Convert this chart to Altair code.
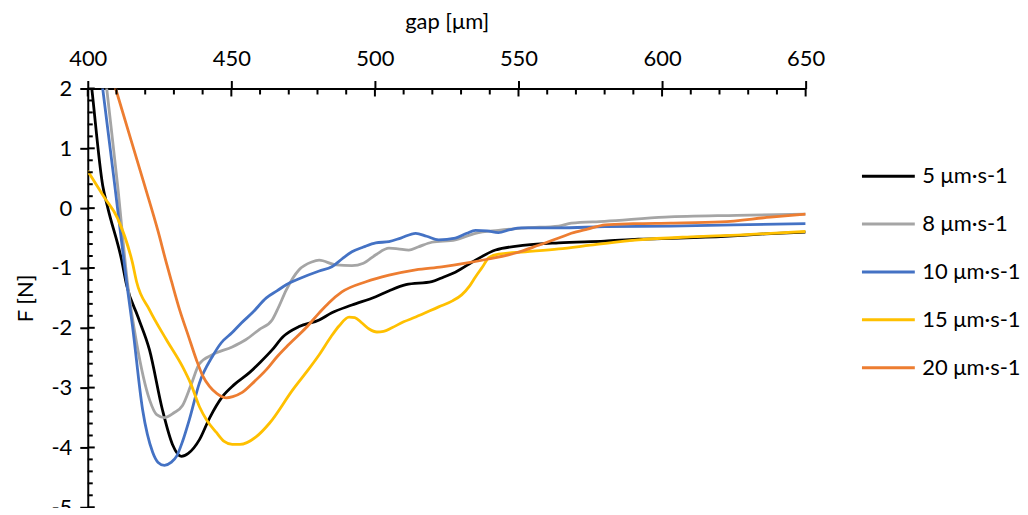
import altair as alt
import pandas as pd

# ---- data ----
series_names = ["5 μm·s-1", "8 μm·s-1", "10 μm·s-1", "15 μm·s-1", "20 μm·s-1"]
series_colors = ["#000000", "#A5A5A5", "#4472C4", "#FFC000", "#ED7D31"]

gap_5 = [400, 401.4, 405.2, 407.0, 411.8, 413.5, 417.5, 421.5, 426.0, 429.5, 432.6, 435.0, 438.9, 442.5,
         446.9, 451.0, 456.3, 460.0, 464.2, 468.0, 473.6, 480.6, 485.0, 492.0, 500.3, 505.0, 510.8,
         519.8, 524.0, 528.0, 535.0, 542.0, 552.4, 564.0, 580.0, 591.7, 606.0, 621.9, 636.0, 650.0]
f_5 = [2.6, 2.0, 0.38, 0.0, -0.87, -1.28, -1.82, -2.37, -3.37, -3.95, -4.15, -4.1, -3.87, -3.5,
       -3.15, -2.95, -2.75, -2.58, -2.37, -2.15, -1.98, -1.87, -1.75, -1.62, -1.48, -1.38, -1.28,
       -1.23, -1.15, -1.07, -0.87, -0.7, -0.62, -0.58, -0.55, -0.52, -0.5, -0.47, -0.43, -0.4]

gap_8 = [405.0, 406.6, 410.4, 413.9, 417.0, 421.5, 424.0, 426.7, 430.0, 433.0, 436.0, 438.9, 443.4,
         450.3, 455.0, 459.7, 464.2, 466.5, 469.1, 473.6, 478.0, 480.6, 486.5, 492.0, 496.0, 500.3,
         504.9, 508.0, 511.8, 515.0, 519.8, 528.0, 535.0, 543.0, 552.4, 564.0, 568.4, 580.0, 601.0,
         626.0, 650.0]
f_8 = [2.7, 2.0, 0.38, -1.28, -2.25, -3.2, -3.45, -3.5, -3.42, -3.3, -2.95, -2.6, -2.45,
       -2.32, -2.2, -2.03, -1.87, -1.65, -1.37, -1.03, -0.9, -0.87, -0.95, -0.96, -0.92, -0.78,
       -0.67, -0.68, -0.7, -0.65, -0.57, -0.53, -0.42, -0.37, -0.33, -0.3, -0.25, -0.22, -0.15,
       -0.12, -0.1]

gap_10 = [404.0, 405.2, 409.4, 413.5, 415.6, 419.1, 422.6, 424.5, 426.7, 429.0, 430.9, 433.0, 435.4,
          438.9, 443.4, 446.5, 450.3, 453.5, 457.3, 462.2, 466.0, 469.1, 473.6, 480.6, 485.0, 488.5,
          492.0, 496.0, 500.3, 504.9, 509.0, 514.2, 518.0, 522.2, 528.0, 532.0, 535.0, 539.0, 543.0,
          547.0, 551.0, 564.0, 580.0, 603.0, 625.0, 650.0]
f_10 = [2.45, 2.0, 0.38, -1.23, -1.98, -3.37, -4.08, -4.25, -4.3, -4.25, -4.15, -3.9, -3.53,
        -2.92, -2.48, -2.25, -2.08, -1.92, -1.75, -1.5, -1.38, -1.28, -1.18, -1.05, -0.98, -0.85,
        -0.73, -0.65, -0.58, -0.56, -0.5, -0.42, -0.47, -0.53, -0.5, -0.42, -0.37, -0.38, -0.41,
        -0.36, -0.33, -0.33, -0.31, -0.3, -0.28, -0.26]

gap_15 = [400.0, 405.9, 410.4, 415.6, 417.0, 421.5, 427.4, 433.0, 436.0, 438.9, 441.5, 444.8, 447.5,
          450.3, 453.0, 458.7, 463.2, 471.5, 476.0, 480.6, 484.7, 487.5, 491.0, 493.0, 495.5,
          498.0, 500.7, 503.0, 505.9, 510.0, 514.2, 522.2, 527.0, 530.2, 533.0, 535.0, 537.5, 539.6,
          543.0, 552.4, 564.0, 575.0, 591.7, 610.0, 626.4, 650.0]
f_15 = [0.62, 0.17, -0.17, -0.92, -1.23, -1.7, -2.2, -2.65, -2.95, -3.32, -3.55, -3.75, -3.9,
        -3.95, -3.95, -3.82, -3.6, -3.03, -2.75, -2.45, -2.15, -1.97, -1.82, -1.83, -1.92,
        -2.02, -2.07, -2.06, -2.0, -1.9, -1.82, -1.65, -1.55, -1.45, -1.3, -1.15, -0.98, -0.83,
        -0.77, -0.73, -0.68, -0.62, -0.53, -0.48, -0.45, -0.39]

gap_20 = [408.0, 409.7, 419.8, 424.5, 427.4, 429.2, 432.0, 435.0, 437.8, 440.0, 442.4, 445.0, 448.3,
          450.5, 453.8, 458.0, 462.2, 466.0, 470.0, 476.0, 480.6, 484.0, 488.5, 496.9, 504.9, 514.2,
          523.3, 531.6, 539.6, 549.0, 557.0, 564.0, 568.4, 574.0, 580.2, 590.0, 603.1, 620.5, 637.8,
          650.0]
f_20 = [2.28, 2.0, 0.38, -0.39, -0.92, -1.23, -1.7, -2.13, -2.53, -2.8, -2.98, -3.1, -3.17,
        -3.15, -3.08, -2.9, -2.7, -2.48, -2.28, -2.0, -1.75, -1.58, -1.4, -1.23, -1.12, -1.03,
        -0.98, -0.92, -0.85, -0.75, -0.62, -0.5, -0.42, -0.35, -0.28, -0.26, -0.25, -0.23, -0.15,
        -0.1]

x_major_ticks = [400, 450, 500, 550, 600, 650]
x_minor_ticks = [410, 420, 430, 440, 460, 470, 480, 490, 510, 520, 530, 540,
                 560, 570, 580, 590, 610, 620, 630, 640]
y_major_ticks = [-5, -4, -3, -2, -1, 0, 1, 2]
y_minor_ticks = [round(-5 + 0.2 * i, 1) for i in range(36) if (i % 5) != 0]

FONT = "Lato"
FS = 22

# ---- tables ----
rows = []
for name, xs, ys in zip(series_names, [gap_5, gap_8, gap_10, gap_15, gap_20],
                        [f_5, f_8, f_10, f_15, f_20]):
    for i, (xv, yv) in enumerate(zip(xs, ys)):
        rows.append({"series": name, "gap": xv, "F": yv, "i": i})
df = pd.DataFrame(rows)

xscale = alt.Scale(domain=[400, 650], nice=False, zero=False)
yscale = alt.Scale(domain=[-5, 2], nice=False, zero=False)

lines = alt.Chart(df).mark_line(strokeWidth=2.8, clip=True, interpolate="monotone").encode(
    x=alt.X("gap:Q", scale=xscale,
            axis=alt.Axis(orient="top", values=x_major_ticks, title="gap [μm]", grid=False,
                          tickSize=8, tickWidth=2, tickColor="black", domainWidth=2,
                          domainColor="black", labelFont=FONT, labelFontSize=FS,
                          labelColor="black", labelPadding=15, labelBaseline="alphabetic",
                          labelFlush=False, labelOverlap=False,
                          titleFont=FONT, titleFontSize=FS, titleFontWeight="normal",
                          titleColor="black", titleX=360, titleY=-60,
                          titleBaseline="alphabetic")),
    y=alt.Y("F:Q", scale=yscale,
            axis=alt.Axis(orient="left", values=y_major_ticks, title="F [N]", grid=False,
                          labelExpr="'' + datum.value",
                          tickSize=8, tickWidth=2, tickColor="black", domainWidth=2,
                          domainColor="black", labelFont=FONT, labelFontSize=FS,
                          labelColor="black", labelPadding=8, labelFlush=False,
                          labelOverlap=False,
                          titleFont=FONT, titleFontSize=FS, titleFontWeight="normal",
                          titleColor="black", titleX=-62, titleY=210, titleAngle=270,
                          titleBaseline="middle", titleAlign="center")),
    color=alt.Color("series:N",
                    scale=alt.Scale(domain=series_names, range=series_colors),
                    legend=alt.Legend(title=None, orient="none", legendX=775, legendY=60,
                                      symbolType="stroke", symbolSize=2809,
                                      symbolStrokeWidth=3, labelFont=FONT,
                                      labelFontSize=FS, labelColor="black", labelOffset=6,
                                      rowPadding=9, padding=0, labelLimit=0)),
    order="i:Q",
)

xmaj_df = pd.DataFrame({"v": x_major_ticks})
xmin_df = pd.DataFrame({"v": x_minor_ticks})
ymaj_df = pd.DataFrame({"v": y_major_ticks})
ymin_df = pd.DataFrame({"v": y_minor_ticks})

tick_style = dict(color="black", strokeWidth=2)
xmaj = alt.Chart(xmaj_df).mark_rule(**tick_style).encode(
    x=alt.X("v:Q", scale=xscale), y=alt.value(0), y2=alt.value(8))
xmin = alt.Chart(xmin_df).mark_rule(**tick_style).encode(
    x=alt.X("v:Q", scale=xscale), y=alt.value(0), y2=alt.value(6))
ymaj = alt.Chart(ymaj_df).mark_rule(**tick_style).encode(
    y=alt.Y("v:Q", scale=yscale), x=alt.value(0), x2=alt.value(7))
ymin = alt.Chart(ymin_df).mark_rule(**tick_style).encode(
    y=alt.Y("v:Q", scale=yscale), x=alt.value(0), x2=alt.value(5))

chart = alt.layer(lines, xmaj, xmin, ymaj, ymin).properties(
    width=720, height=420,
    background="white",
    autosize=alt.AutoSizeParams(type="none"),
    padding={"left": 80, "top": 80, "right": 215, "bottom": 0},
).configure_view(stroke=None, strokeWidth=0)

chart.save("out.html", embed_options={"renderer": "svg", "actions": False})
